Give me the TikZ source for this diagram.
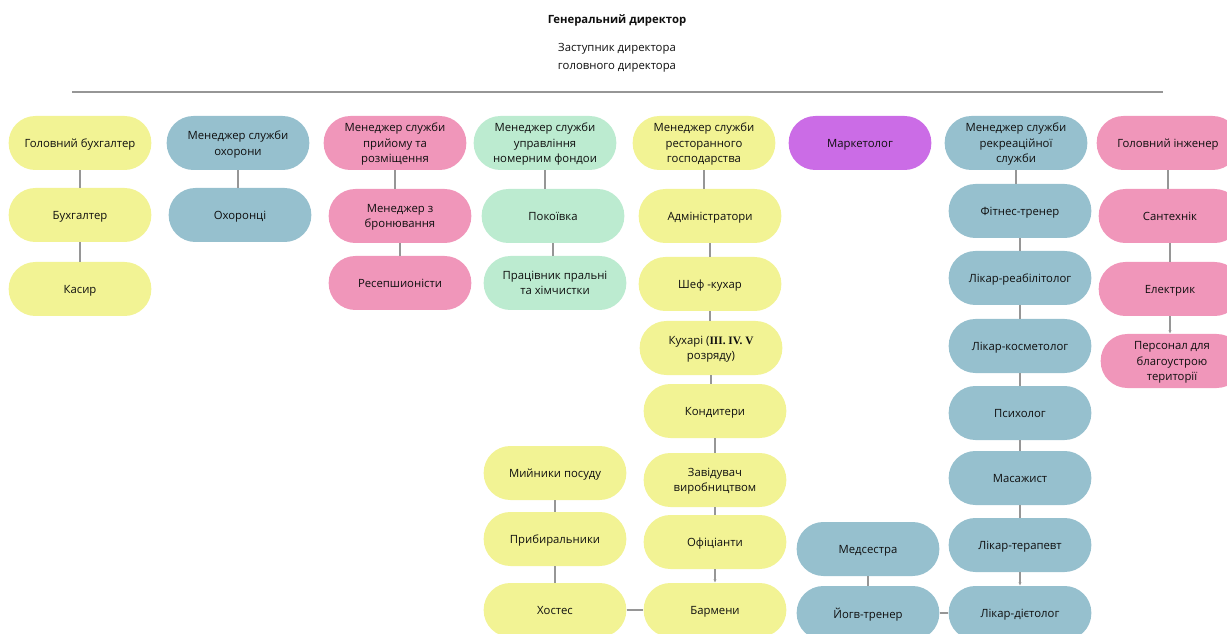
\documentclass[tikz,border=0pt]{standalone}
\usepackage{fontspec}
\setmainfont{Open Sans}
\newfontfamily\romfont{Liberation Serif}
\usetikzlibrary{arrows.meta}
\definecolor{cyellow}{RGB}{242,243,148}
\definecolor{cblue}{RGB}{150,192,206}
\definecolor{cpink}{RGB}{240,150,186}
\definecolor{cgreen}{RGB}{188,235,208}
\definecolor{cpurple}{RGB}{203,108,230}
\definecolor{linegray}{RGB}{150,150,150}
\definecolor{txt}{RGB}{15,15,15}
\tikzset{
  box/.style={draw=none, rounded corners=20pt, minimum width=107pt,
    minimum height=40.5pt, align=center, inner sep=2pt, text=txt,
    text depth=0pt, font=\fontsize{8.5}{11.6}\selectfont},
  yel/.style={box, fill=cyellow},
  blu/.style={box, fill=cblue},
  pnk/.style={box, fill=cpink},
  grn/.style={box, fill=cgreen},
  prp/.style={box, fill=cpurple},
  link/.style={draw=linegray, line width=0.9pt},
  linkarr/.style={link, -{Latex[length=2.6pt,width=2.6pt]}},
  head/.style={align=center, text=txt, font=\fontsize{8.5}{13.5}\selectfont}
}
\begin{document}
\begin{tikzpicture}[x=0.75pt,y=-0.75pt]
\useasboundingbox (0,0) rectangle (1227,634);
\clip (0,0) rectangle (1227,634);

% heading
\node[head, font=\fontsize{8.5}{13.5}\selectfont\bfseries] (gd) at (617,20) {Генеральний директор};
\node[head] (zd) at (617,58) {Заступник директора\\головного директора};
\draw[draw=linegray, line width=1pt] (72,92) coordinate (rl) -- (1163,92) coordinate (rr);

% accounting
\node[yel] (gb)  at (80,143) {Головний бухгалтер};
\node[yel] (buh) at (80,215) {Бухгалтер};
\node[yel] (kas) at (80,289) {Касир};

% security
\node[blu] (oh)  at (238,143) {Менеджер служби\\охорони};
\node[blu] (ohc) at (240,215) {Охоронці};

% front office
\node[pnk] (pr)  at (395,143) {Менеджер служби\\прийому та\\розміщення};
\node[pnk] (br)  at (400,216) {Менеджер з\\бронювання};
\node[pnk] (rs)  at (400,283) {Ресепшионісти};

% housekeeping
\node[grn] (up)  at (545,143) {Менеджер служби\\управління\\номерним фондои};
\node[grn] (pk)  at (553,216) {Покоївка};
\node[grn] (pl)  at (555,283) {Працівник пральні\\та хімчистки};

% restaurant
\node[yel] (rt)  at (704,143) {Менеджер служби\\ресторанного\\господарства};
\node[yel] (adm) at (710,216) {Адміністратори};
\node[yel] (shf) at (710,284) {Шеф -кухар};
\node[yel] (kuh) at (711,348) {Кухарі ({\romfont\bfseries III. IV. V}\\розряду)};
\node[yel] (knd) at (715,411) {Кондитери};
\node[yel] (zav) at (715,480) {Завідувач\\виробництвом};
\node[yel] (ofc) at (715,542) {Офіціанти};
\node[yel] (bar) at (715,610) {Бармени};
\node[yel] (myi) at (555,473) {Мийники посуду};
\node[yel] (prb) at (555,539) {Прибиральники};
\node[yel] (hos) at (555,610) {Хостес};

% marketing
\node[prp] (mk)  at (860,143) {Маркетолог};

% recreation
\node[blu] (rk)  at (1016,143) {Менеджер служби\\рекреаційної\\служби};
\node[blu] (ft)  at (1020,211) {Фітнес-тренер};
\node[blu] (rb)  at (1020,278) {Лікар-реабілітолог};
\node[blu] (ks)  at (1020,346) {Лікар-косметолог};
\node[blu] (ps)  at (1020,413) {Психолог};
\node[blu] (ms)  at (1020,478) {Масажист};
\node[blu] (tr)  at (1020,545) {Лікар-терапевт};
\node[blu] (dt)  at (1020,613) {Лікар-дієтолог};
\node[blu] (md)  at (868,549) {Медсестра};
\node[blu] (yg)  at (868,613) {Йогв-тренер};

% engineering
\node[pnk] (ing) at (1168,143) {Головний інженер};
\node[pnk] (snt) at (1170,216) {Сантехнік};
\node[pnk] (el)  at (1170,289) {Електрик};
\node[pnk] (prs) at (1172,361) {Персонал для\\благоустрою\\території};

% connectors
\draw[link] (gb.south) -- (gb.south |- buh.north);
\draw[link] (buh.south) -- (buh.south |- kas.north);
\draw[link] (oh.south) -- (oh.south |- ohc.north);
\draw[link] (pr.south) -- (pr.south |- br.north);
\draw[link] (br.south) -- (br.south |- rs.north);
\draw[link] (up.south) -- (up.south |- pk.north);
\draw[link] (pk.south) -- (pk.south |- pl.north);
\draw[link] (rt.south) -- (rt.south |- adm.north);
\draw[link] (adm.south) -- (adm.south |- shf.north);
\draw[link] (shf.south) -- (shf.south |- kuh.north);
\draw[link] (kuh.south) -- (kuh.south |- knd.north);
\draw[link] (knd.south) -- (knd.south |- zav.north);
\draw[link] (zav.south) -- (zav.south |- ofc.north);
\draw[linkarr] (ofc.south) -- (ofc.south |- bar.north);
\draw[link] (myi.south) -- (myi.south |- prb.north);
\draw[link] (prb.south) -- (prb.south |- hos.north);
\draw[link] (hos.east) -- (bar.west);
\draw[link] (rk.south) -- (rk.south |- ft.north);
\draw[link] (ft.south) -- (ft.south |- rb.north);
\draw[link] (rb.south) -- (rb.south |- ks.north);
\draw[link] (ks.south) -- (ks.south |- ps.north);
\draw[link] (ps.south) -- (ps.south |- ms.north);
\draw[link] (ms.south) -- (ms.south |- tr.north);
\draw[linkarr] (tr.south) -- (tr.south |- dt.north);
\draw[link] (md.south) -- (md.south |- yg.north);
\draw[link] (yg.east) -- (dt.west);
\draw[link] (ing.south) -- (ing.south |- snt.north);
\draw[link] (snt.south) -- (snt.south |- el.north);
\draw[linkarr] (el.south) -- (el.south |- prs.north);
\end{tikzpicture}
\end{document}
